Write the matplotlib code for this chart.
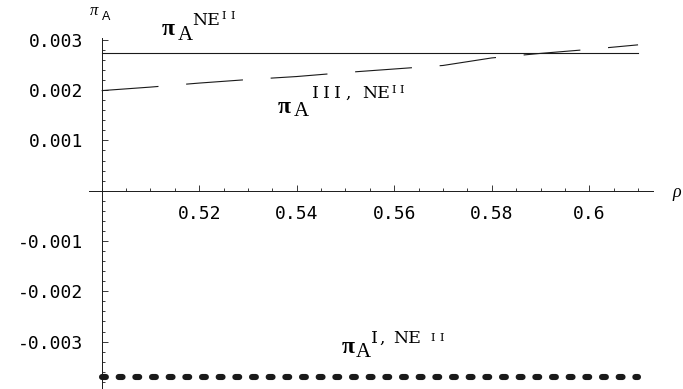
import matplotlib
matplotlib.use('Agg')
import matplotlib.pyplot as plt
from matplotlib.ticker import FixedLocator, MultipleLocator

plt.rcParams['axes.unicode_minus'] = False
plt.rcParams['lines.scale_dashes'] = False
plt.rcParams['font.family'] = 'DejaVu Sans Mono'

# payoff of A against rho for the three regimes
rho_flat = [0.50, 0.61]
pi_ne = [0.00273, 0.00273]

rho_iii = [0.50, 0.51, 0.52, 0.53, 0.54, 0.55, 0.56, 0.57, 0.58, 0.59, 0.60, 0.61]
pi_iii = [0.00199, 0.00206, 0.00214, 0.00221, 0.00227, 0.00235,
          0.00242, 0.00249, 0.00264, 0.00273, 0.00281, 0.00290]

rho_i = [0.50, 0.61]
pi_i = [-0.00371, -0.00371]

y_ticks = [-0.003, -0.002, -0.001, 0.001, 0.002, 0.003]
x_ticks = [0.52, 0.54, 0.56, 0.58, 0.60]
x_tick_labels = ['0.52', '0.54', '0.56', '0.58', '0.6']

ink = '#1a1a1a'
serif = 'Liberation Serif'
slab = 'DejaVu Serif'

fig = plt.figure(figsize=(6.83, 3.89), dpi=100)
ax = fig.add_axes([0.1303, 0.0, 0.8253, 0.9023])
ax.set_xlim(0.4974, 0.6130)
ax.set_ylim(-0.003942, 0.003036)

ax.plot(rho_flat, pi_ne, color=ink, lw=0.8)
ax.plot(rho_iii, pi_iii, color=ink, lw=0.8, dashes=(41, 20))
ax.plot(rho_i, pi_i, color=ink, lw=4.4, dashes=(2.8, 9.2),
        dash_capstyle='round', solid_capstyle='round')

# axes crossing at (0.5, 0)
for s in ['top', 'right']:
    ax.spines[s].set_visible(False)
ax.spines['left'].set_position(('data', 0.5))
ax.spines['bottom'].set_position(('data', 0.0))
for s in ['left', 'bottom']:
    ax.spines[s].set_linewidth(0.7)
    ax.spines[s].set_color(ink)

ax.yaxis.set_major_locator(FixedLocator(y_ticks))
ax.set_yticklabels(['%.3f' % v for v in y_ticks])
ax.yaxis.set_minor_locator(MultipleLocator(0.0002))
ax.xaxis.set_major_locator(FixedLocator(x_ticks))
ax.set_xticklabels(x_tick_labels)
ax.xaxis.set_minor_locator(MultipleLocator(0.005))

ax.tick_params(which='both', direction='in', color=ink, width=0.6)
ax.tick_params(which='major', length=4, labelsize=13)
ax.tick_params(which='minor', length=2)
ax.tick_params(axis='y', which='major', pad=13)
ax.tick_params(axis='x', which='major', pad=10)


def put(x, y, text, dx, dy, size, family, weight='normal', adv=None):
    # adv given -> typewriter spacing, one glyph per cell of width adv (pt)
    kw = dict(textcoords='offset points', fontsize=size, family=family,
              fontweight=weight, color='black', va='baseline',
              annotation_clip=False)
    if adv is None:
        ax.annotate(text, (x, y), xytext=(dx, dy), ha='left', **kw)
        return
    for i, ch in enumerate(text):
        if ch != ' ':
            ax.annotate(ch, (x, y), xytext=(dx + (i + 0.5) * adv, dy),
                        ha='center', **kw)


def pi_label(x, y, a_off, roman, roman_dx, roman_adv, ne_dx, sup_dy,
             small_dx, small_dy):
    put(x, y, 'π', 0, 0, 17, serif, 'bold')
    put(x, y, 'A', a_off[0], a_off[1], 15, serif)
    if roman:
        put(x, y, roman, roman_dx, sup_dy, 12.5, slab, adv=roman_adv)
    put(x, y, 'NE', ne_dx, sup_dy, 12.5, slab)
    put(x, y, 'II', small_dx, small_dy, 8, slab, adv=6.0)


pi_label(0.5124, 0.003095, (11.2, -3.6), '', 0, 0, 21.6, 7.2, 41.5, 11.5)
pi_label(0.5360, 0.001545, (12.2, -2.2), 'III,', 23.8, 7.8, 61.5, 10.8,
         80.5, 14.4)
pi_label(0.5493, -0.003226, (9.6, -2.9), 'I,', 20.5, 5.8, 36.5, 7.2,
         62.5, 8.6)

# axis names
fig.text(90 / 683, 1 - 15 / 389, 'π', fontsize=12, family=serif,
         style='italic', va='baseline')
fig.text(102 / 683, 1 - 20 / 389, 'A', fontsize=9, family='Liberation Sans',
         va='baseline')
ax.annotate('ρ', (0.6130, 0.0), xytext=(14, -4.5), textcoords='offset points',
            fontsize=13, family=serif, style='italic', va='baseline',
            annotation_clip=False)

fig.savefig('out.png', dpi=100)
